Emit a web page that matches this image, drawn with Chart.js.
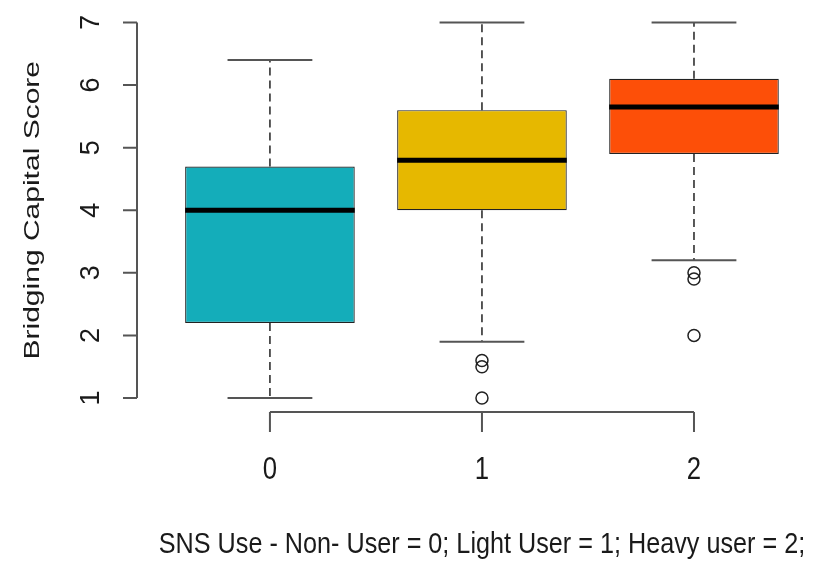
<!DOCTYPE html>
<html lang="en">
<head>
<meta charset="UTF-8">
<title>Bridging Capital Score by SNS Use</title>
<style>
  body { margin: 0; background: #fff; overflow: hidden; }
</style>
</head>
<body>
<canvas id="boxChart" width="817" height="563"></canvas>
<script src="https://cdn.jsdelivr.net/npm/chart.js"></script>
<script>
// groups on the x axis (SNS use level)
const groups = [0, 1, 2];
const groupLabels = ['0', '1', '2'];
// five-number summaries
const whiskerLow = [1.0, 1.9, 3.2];
const q1 = [2.2, 4.0, 4.9];
const median = [4.0, 4.8, 5.65];
const q3 = [4.7, 5.6, 6.1];
const whiskerHigh = [6.4, 7.0, 7.0];
// outliers: group index + value
const outlierGroup = [1, 1, 1, 2, 2, 2];
const outlierValue = [1.6, 1.5, 1.0, 3.0, 2.9, 2.0];
const yTicks = [1, 2, 3, 4, 5, 6, 7];
const boxColors = ['#14adba', '#e6b800', '#fd4f08'];

const yTitle = 'Bridging Capital Score';
const xTitle = 'SNS Use - Non- User = 0; Light User = 1; Heavy user = 2;';

// text helper: R output looks squeezed horizontally, so scale x
function drawText(ctx, text, x, y, size, sx, rotate) {
    ctx.save();
    ctx.translate(x, y);
    ctx.scale(sx, 1);
    if (rotate) ctx.rotate(-Math.PI / 2);
    ctx.font = size + 'px "Liberation Sans", Arial, sans-serif';
    ctx.fillStyle = '#1a1a1a';
    ctx.textAlign = 'center';
    ctx.textBaseline = 'middle';
    ctx.fillText(text, 0, 0);
    ctx.restore();
}

// whiskers, staples and medians, R boxplot style
const boxPlugin = {
    id: 'boxExtras',
    afterDatasetsDraw(chart) {
        const ctx = chart.ctx;
        const xs = chart.scales.x, ys = chart.scales.y;
        const unit = xs.getPixelForValue(1) - xs.getPixelForValue(0);
        ctx.save();
        groups.forEach((g, i) => {
            const cx = xs.getPixelForValue(g);
            // dashed whisker lines
            ctx.strokeStyle = '#222';
            ctx.lineWidth = 1.5;
            ctx.setLineDash([8, 5]);
            ctx.beginPath();
            ctx.moveTo(cx, ys.getPixelForValue(q3[i]));
            ctx.lineTo(cx, ys.getPixelForValue(whiskerHigh[i]));
            ctx.moveTo(cx, ys.getPixelForValue(q1[i]));
            ctx.lineTo(cx, ys.getPixelForValue(whiskerLow[i]));
            ctx.stroke();
            ctx.setLineDash([]);
            // staples (half box width)
            ctx.strokeStyle = '#555';
            ctx.lineWidth = 2;
            const half = unit * 0.2;
            [whiskerHigh[i], whiskerLow[i]].forEach(v => {
                const py = ys.getPixelForValue(v);
                ctx.beginPath();
                ctx.moveTo(cx - half, py);
                ctx.lineTo(cx + half, py);
                ctx.stroke();
            });
            // median
            ctx.strokeStyle = '#000';
            ctx.lineWidth = 5;
            const my = ys.getPixelForValue(median[i]);
            ctx.beginPath();
            ctx.moveTo(cx - unit * 0.4, my);
            ctx.lineTo(cx + unit * 0.4, my);
            ctx.stroke();
        });
        ctx.restore();
    },
    afterDraw(chart) {
        const ctx = chart.ctx;
        const xs = chart.scales.x, ys = chart.scales.y;
        const area = chart.chartArea;
        ctx.save();
        ctx.strokeStyle = '#555';
        ctx.lineWidth = 2;
        // y axis
        const ax = area.left;
        ctx.beginPath();
        ctx.moveTo(ax, ys.getPixelForValue(yTicks[0]));
        ctx.lineTo(ax, ys.getPixelForValue(yTicks[yTicks.length - 1]));
        yTicks.forEach(t => {
            const py = ys.getPixelForValue(t);
            ctx.moveTo(ax, py);
            ctx.lineTo(ax - 14, py);
        });
        ctx.stroke();
        yTicks.forEach(t => {
            drawText(ctx, String(t), ax - 45, ys.getPixelForValue(t), 27, 1, true);
        });
        // x axis
        const ay = area.bottom - 1;
        ctx.beginPath();
        ctx.moveTo(xs.getPixelForValue(groups[0]), ay);
        ctx.lineTo(xs.getPixelForValue(groups[groups.length - 1]), ay);
        groups.forEach(g => {
            const px = xs.getPixelForValue(g);
            ctx.moveTo(px, ay);
            ctx.lineTo(px, ay + 20);
        });
        ctx.stroke();
        groups.forEach((g, i) => {
            drawText(ctx, groupLabels[i], xs.getPixelForValue(g), ay + 58, 31, 0.83, false);
        });
        // axis titles
        const midY = (ys.getPixelForValue(yTicks[0]) + ys.getPixelForValue(yTicks[yTicks.length - 1])) / 2;
        drawText(ctx, yTitle, 33, midY, 30, 0.76, true);
        drawText(ctx, xTitle, xs.getPixelForValue(groups[1]), ay + 133, 30, 0.84, false);
        ctx.restore();
    }
};

const config = {
    type: 'bar',
    data: {
        datasets: [{
            label: 'box',
            data: groups.map((g, i) => ({ x: g, y: [q1[i], q3[i]] })),
            backgroundColor: boxColors,
            borderColor: '#222',
            borderWidth: 1.2,
            borderSkipped: false,
            barPercentage: 0.8,
            categoryPercentage: 1.0
        }, {
            type: 'scatter',
            label: 'outliers',
            data: outlierValue.map((v, i) => ({ x: groups[outlierGroup[i]], y: v })),
            pointStyle: 'circle',
            radius: 6,
            borderWidth: 1.5,
            borderColor: '#222',
            backgroundColor: 'rgba(0,0,0,0)'
        }]
    },
    options: {
        responsive: false,
        animation: false,
        layout: { padding: { left: 137, right: 17, top: 2, bottom: 150 } },
        plugins: { legend: { display: false }, tooltip: { enabled: false } },
        scales: {
            x: {
                type: 'linear',
                display: false,
                offset: false,
                min: -0.627,
                max: 2.5,
                // keep ticks on the groups so the bar width is 0.8 of one unit
                afterBuildTicks: s => { s.ticks = groups.map(v => ({ value: v })); }
            },
            y: {
                display: false,
                min: 0.76,
                max: 7.24
            }
        }
    },
    plugins: [boxPlugin]
};

new Chart(document.getElementById('boxChart'), config);
</script>
</body>
</html>
